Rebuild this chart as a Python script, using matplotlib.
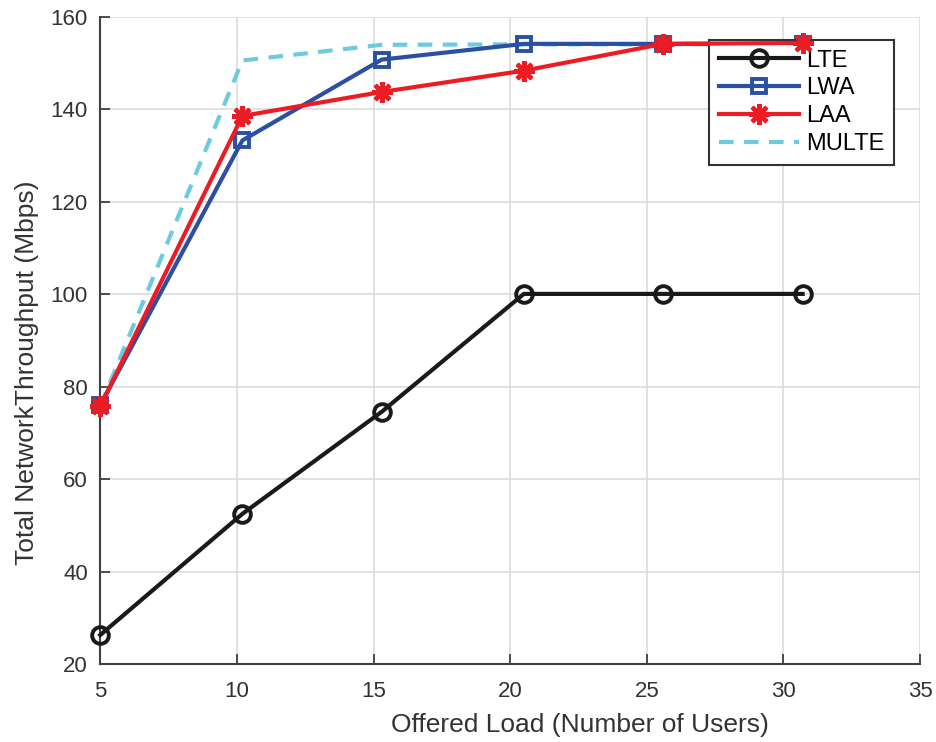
import matplotlib.pyplot as plt
import numpy as np

plt.rcParams['font.family'] = ['Liberation Sans', 'DejaVu Sans']

# offered load (number of users)
users = [5, 10.2, 15.3, 20.5, 25.6, 30.7]

lte = [26.3, 52.5, 74.6, 100.1, 100.1, 100.1]
lwa = [76.0, 133.3, 150.8, 154.2, 154.2, 154.2]
laa = [75.8, 138.6, 143.8, 148.4, 154.2, 154.4]
multe = [75.8, 150.6, 154.0, 154.1, 154.1, 154.1]

xticks = [5, 10, 15, 20, 25, 30, 35]
yticks = [20, 40, 60, 80, 100, 120, 140, 160]

fig = plt.figure(figsize=(9.37, 7.42), dpi=100)
ax = fig.add_axes([0.107, 0.105, 0.875, 0.872])

ax.plot(users, lte, color='#1a1a1a', lw=3, marker='o', ms=12, mfc='none',
        mew=2.8, label='LTE', clip_on=False, zorder=5)
ax.plot(users, lwa, color='#2b4fa3', lw=3, marker='s', ms=10, mfc='none',
        mew=2.8, label='LWA', clip_on=False, zorder=4)
ax.plot(users, laa, color='#ec1c24', lw=3, marker=(8, 2, 0), ms=15,
        mew=3, label='LAA', clip_on=False, zorder=6)
ax.plot(users, multe, color='#6ccbe0', lw=3, ls=(0, (3.5, 2.5)),
        label='MULTE', clip_on=False, zorder=3)

ax.set_xlim(5, 35)
ax.set_ylim(20, 160)
ax.set_xticks(xticks)
ax.set_yticks(yticks)
ax.grid(True, color='#dcdcdc', lw=1.2)
ax.set_axisbelow(True)

for s in ['top', 'right']:
    ax.spines[s].set_visible(False)
for s in ['left', 'bottom']:
    ax.spines[s].set_color('#404040')
    ax.spines[s].set_linewidth(1.5)
ax.tick_params(direction='in', length=7, width=1.3, color='#404040',
               labelsize=16, labelcolor='#333333')
ax.tick_params(axis='x', pad=12)
ax.tick_params(axis='y', pad=9)

ax.set_xlabel('Offered Load (Number of Users)', fontsize=19, color='#333333', labelpad=6)
ax.set_ylabel('Total NetworkThroughput (Mbps)', fontsize=19, color='#333333', labelpad=8)
ax.xaxis.set_label_coords(0.585, -0.075)
ax.yaxis.label.set_y(0.45)

leg = ax.legend(loc='upper right', bbox_to_anchor=(0.954, 0.946),
                bbox_transform=fig.transFigure, fontsize=17, frameon=True,
                fancybox=False, edgecolor='#333333', framealpha=1,
                handlelength=3.4, borderpad=0.4, labelspacing=0.25,
                handletextpad=0.3, borderaxespad=0)
leg.get_frame().set_linewidth(1.5)

fig.savefig('out.png', dpi=100)
